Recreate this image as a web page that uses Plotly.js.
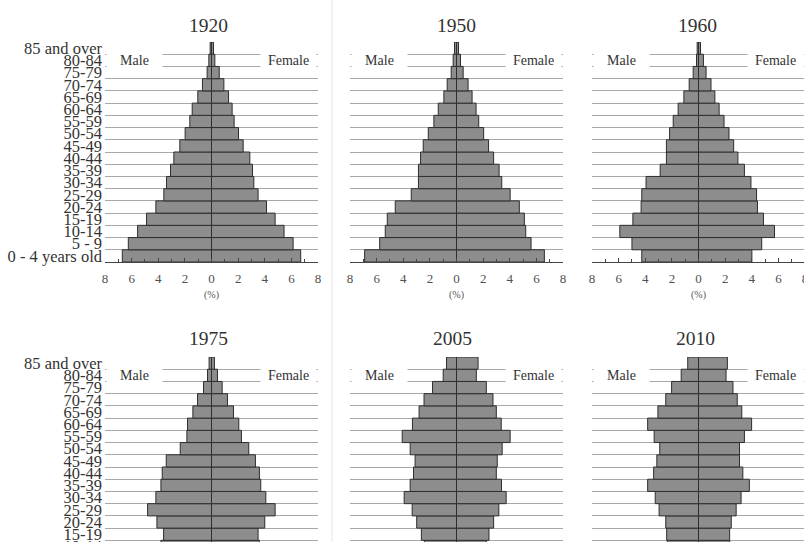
<!DOCTYPE html>
<html>
<head>
<meta charset="utf-8">
<script src="https://cdn.plot.ly/plotly-3.0.1.min.js"></script>
<style>
  html, body { margin: 0; padding: 0; background: #ffffff; overflow: hidden; }
  #chart { width: 812px; height: 640px; }
</style>
</head>
<body>
<div id="chart"></div>
<script>
// Age groups, youngest (bottom) to oldest (top)
const ageGroups = ["0 - 4 years old", "5 - 9", "10-14", "15-19", "20-24", "25-29", "30-34", "35-39",
  "40-44", "45-49", "50-54", "55-59", "60-64", "65-69", "70-74", "75-79", "80-84", "85 and over"];

const years = ["1920", "1950", "1960", "1975", "2005", "2010"];

// Percent of population, same order as ageGroups
const male1920   = [6.7, 6.25, 5.55, 4.88, 4.18, 3.58, 3.38, 3.08, 2.83, 2.38, 1.98, 1.63, 1.45, 1.03, 0.68, 0.33, 0.2, 0.1];
const female1920 = [6.7, 6.13, 5.45, 4.78, 4.13, 3.5, 3.18, 3.08, 2.88, 2.38, 2.03, 1.7, 1.55, 1.28, 0.93, 0.58, 0.25, 0.15];

const male1950   = [6.9, 5.77, 5.35, 5.2, 4.6, 3.4, 2.86, 2.86, 2.7, 2.5, 2.12, 1.7, 1.37, 0.95, 0.7, 0.4, 0.25, 0.15];
const female1950 = [6.6, 5.6, 5.2, 5.1, 4.72, 4.03, 3.4, 3.2, 2.79, 2.41, 2.04, 1.67, 1.47, 1.17, 0.87, 0.5, 0.3, 0.15];

const male1960   = [4.26, 5.0, 5.91, 4.93, 4.31, 4.26, 3.94, 2.88, 2.41, 2.41, 2.17, 1.9, 1.53, 1.1, 0.7, 0.4, 0.15, 0.1];
const female1960 = [4.01, 4.75, 5.71, 4.88, 4.43, 4.36, 3.94, 3.45, 2.96, 2.64, 2.29, 1.92, 1.55, 1.23, 0.94, 0.57, 0.37, 0.15];

// 1975, 2005, 2010: the two youngest groups are cut off in the picture
const male1975   = [null, null, 3.8, 3.6, 4.1, 4.8, 4.18, 3.8, 3.7, 3.4, 2.35, 1.85, 1.8, 1.4, 1.05, 0.6, 0.3, 0.18];
const female1975 = [null, null, 3.6, 3.5, 4.0, 4.78, 4.08, 3.7, 3.6, 3.3, 2.8, 2.25, 2.05, 1.65, 1.2, 0.8, 0.45, 0.22];

const male2005   = [null, null, 2.41, 2.64, 2.99, 3.33, 3.93, 3.48, 3.23, 3.11, 3.48, 4.08, 3.31, 2.81, 2.44, 1.8, 1.0, 0.75];
const female2005 = [null, null, 2.24, 2.44, 2.79, 3.18, 3.73, 3.38, 2.99, 3.06, 3.43, 4.03, 3.36, 2.99, 2.74, 2.24, 1.49, 1.62];

const male2010   = [null, null, 2.34, 2.39, 2.46, 2.96, 3.25, 3.82, 3.37, 3.13, 2.91, 3.33, 3.82, 3.05, 2.46, 2.02, 1.3, 0.81];
const female2010 = [null, null, 2.34, 2.34, 2.46, 2.83, 3.2, 3.82, 3.33, 3.08, 3.08, 3.45, 3.99, 3.25, 2.91, 2.59, 2.07, 2.17];

const xTickVals = [-8, -6, -4, -2, 0, 2, 4, 6, 8];
const xTickText = ["8", "6", "4", "2", "0", "2", "4", "6", "8"];

const maleSeries = [male1920, male1950, male1960, male1975, male2005, male2010];
const femaleSeries = [female1920, female1950, female1960, female1975, female2005, female2010];

// ---- layout geometry (pixels) ----
const W = 812, H = 640;
const colX = [[105, 318], [350, 563], [592, 805]];
const rowY = [[42, 262], [357, 577]];
const titlePos = [[208, 25], [456, 25], [697, 25], [208, 338], [452, 338], [695, 338]];

const FONT = "Liberation Serif, Times New Roman, serif";
const barFill = "#8d8d8d";
const barEdge = "#2e2e2e";

const traces = [];
const layout = {
  width: W, height: H,
  margin: {l: 0, r: 0, t: 0, b: 0},
  paper_bgcolor: "#ffffff",
  plot_bgcolor: "rgba(0,0,0,0)",
  showlegend: false,
  barmode: "relative",
  bargap: 0,
  font: {family: FONT, color: "#333"},
  annotations: [],
  shapes: [
    {type: "line", xref: "paper", yref: "paper", x0: 332 / W, x1: 332 / W, y0: 0, y1: 1,
     line: {color: "#e4e4e4", width: 1}}
  ]
};

for (let i = 0; i < 6; i++) {
  const n = i + 1;
  const xa = n === 1 ? "x" : "x" + n;
  const ya = n === 1 ? "y" : "y" + n;
  const col = i % 3, row = Math.floor(i / 3);

  traces.push({
    type: "bar", orientation: "h", name: "Male",
    y: ageGroups, x: maleSeries[i].map(v => v == null ? null : -v),
    xaxis: xa, yaxis: ya,
    marker: {color: barFill, line: {color: barEdge, width: 1}},
    hoverinfo: "skip"
  });
  traces.push({
    type: "bar", orientation: "h", name: "Female",
    y: ageGroups, x: femaleSeries[i],
    xaxis: xa, yaxis: ya,
    marker: {color: barFill, line: {color: barEdge, width: 1}},
    hoverinfo: "skip"
  });

  layout[(n === 1 ? "xaxis" : "xaxis" + n)] = {
    domain: [colX[col][0] / W, colX[col][1] / W],
    anchor: ya,
    range: [-8, 8],
    tickmode: "array", tickvals: xTickVals, ticktext: xTickText,
    ticks: "inside", ticklen: 4, tickcolor: "#444", tickwidth: 1,
    ticklabelstandoff: 4,
    minor: {tickmode: "linear", tick0: 0, dtick: 1, ticks: "inside", ticklen: 3, tickcolor: "#444", showgrid: false},
    showline: true, linecolor: "#444", linewidth: 1,
    showgrid: false, zeroline: false,
    tickfont: {family: FONT, size: 13, color: "#505050"},
    title: {text: "(%)", font: {family: FONT, size: 10, color: "#555"}, standoff: 6},
    fixedrange: true
  };
  layout[(n === 1 ? "yaxis" : "yaxis" + n)] = {
    domain: [1 - rowY[row][1] / H, 1 - rowY[row][0] / H],
    anchor: xa,
    type: "category", categoryorder: "array", categoryarray: ageGroups,
    range: [-0.5, 17.5],
    tickmode: "linear", tick0: 0, dtick: 1,
    tickson: "boundaries",
    showgrid: true, gridcolor: "#a8a8a8", gridwidth: 1,
    ticks: "", showline: false, zeroline: false,
    showticklabels: col === 0,
    ticklabelstandoff: 2,
    tickfont: {family: FONT, size: 16.5, color: "#333"},
    fixedrange: true
  };

  layout.annotations.push({
    xref: "paper", yref: "paper", x: titlePos[i][0] / W, y: 1 - titlePos[i][1] / H,
    xanchor: "center", yanchor: "middle", showarrow: false,
    text: years[i], font: {family: FONT, size: 19.5, color: "#333"}
  });
  layout.annotations.push({
    xref: xa, yref: ya, x: -5.78, y: "80-84",
    xanchor: "center", yanchor: "middle", showarrow: false,
    width: 55, height: 16, bgcolor: "#ffffff", borderpad: 0,
    text: "Male", font: {family: FONT, size: 14, color: "#333"}
  });
  layout.annotations.push({
    xref: xa, yref: ya, x: 5.78, y: "80-84",
    xanchor: "center", yanchor: "middle", showarrow: false,
    width: 55, height: 16, bgcolor: "#ffffff", borderpad: 0,
    text: "Female", font: {family: FONT, size: 14, color: "#333"}
  });
}

Plotly.newPlot("chart", traces, layout, {displayModeBar: false, staticPlot: true});
</script>
</body>
</html>
